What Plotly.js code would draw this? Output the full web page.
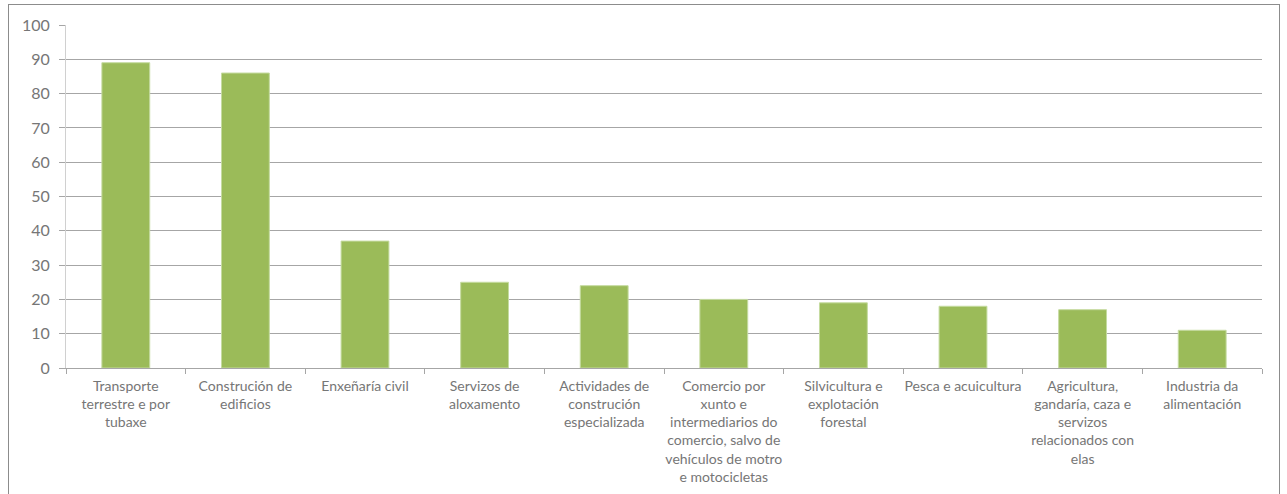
<!DOCTYPE html>
<html>
<head>
<meta charset="utf-8">
<script src="https://cdn.plot.ly/plotly-3.0.1.min.js"></script>
<style>
html,body{margin:0;padding:0;background:#fff;}
#chart{width:1287px;height:494px;}
#frame{position:absolute;left:8px;top:4px;width:1272px;height:500px;border:1.5px solid #8c8c8c;pointer-events:none;box-sizing:border-box;}
</style>
</head>
<body>
<div id="chart"></div>
<div id="frame"></div>
<script>
const categories = [
  "Transporte<br>terrestre e por<br>tubaxe",
  "Construción de<br>edificios",
  "Enxeñaría civil",
  "Servizos de<br>aloxamento",
  "Actividades de<br>construción<br>especializada",
  "Comercio por<br>xunto e<br>intermediarios do<br>comercio, salvo de<br>vehículos de motro<br>e motocicletas",
  "Silvicultura e<br>explotación<br>forestal",
  "Pesca e acuicultura",
  "Agricultura,<br>gandaría, caza e<br>servizos<br>relacionados con<br>elas",
  "Industria da<br>alimentación"
];
const values = [89, 86, 37, 25, 24, 20, 19, 18, 17, 11];
const yTicks = [0,10,20,30,40,50,60,70,80,90,100];

const trace = {
  type: 'bar',
  x: categories,
  y: values,
  marker: {color: '#9BBB59', line: {color: '#c5dba0', width: 1}},
  hoverinfo: 'x+y'
};

const layout = {
  width: 1287, height: 494,
  margin: {l: 66, r: 25, t: 25, b: 126},
  paper_bgcolor: '#ffffff',
  plot_bgcolor: '#ffffff',
  bargap: 0.6,
  showlegend: false,
  font: {family: 'Lato, "Open Sans", sans-serif', color: '#767676'},
  xaxis: {
    type: 'category',
    showline: true, linecolor: '#a6a6a6', linewidth: 1,
    ticks: 'outside', tickson: 'boundaries', ticklen: 5, tickcolor: '#a6a6a6',
    ticklabelstandoff: 5,
    tickfont: {size: 14, color: '#767676', family: 'Lato, "Open Sans", sans-serif'},
    tickangle: 0,
    showgrid: false, zeroline: false,
    automargin: false
  },
  yaxis: {
    range: [0, 100],
    tickvals: yTicks,
    showline: true, linecolor: '#d0d0d0', linewidth: 1,
    ticks: 'outside', ticklen: 6, tickcolor: '#a6a6a6',
    ticklabelstandoff: 6,
    tickfont: {size: 16, color: '#767676', family: 'Lato, "Open Sans", sans-serif'},
    showgrid: true, gridcolor: '#a6a6a6', gridwidth: 1,
    zeroline: false,
    automargin: false
  }
};

Plotly.newPlot('chart', [trace], layout, {displayModeBar: false, staticPlot: true});
</script>
</body>
</html>
